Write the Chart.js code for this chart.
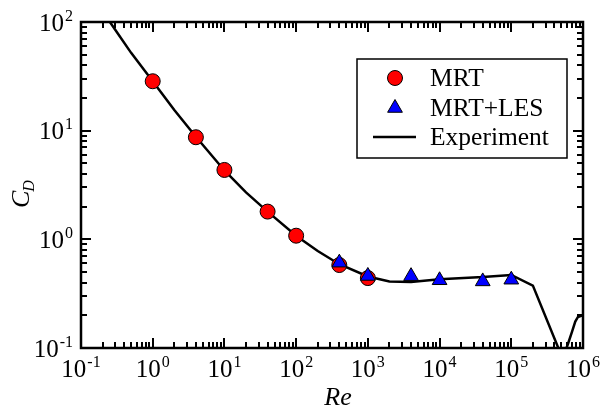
<!DOCTYPE html>
<html>
<head>
<meta charset="utf-8">
<script src="https://cdn.jsdelivr.net/npm/chart.js@4.4.0/dist/chart.umd.min.js"></script>
<style>
  body { margin: 0; background: #fff; }
  canvas { display: block; }
</style>
</head>
<body>
<canvas id="cdChart" width="603" height="412"></canvas>
<script>
// MRT (circles)
const mrtRe = [1, 4, 10, 40, 100, 400, 1000];
const mrtCd = [28.5, 8.7, 4.35, 1.8, 1.08, 0.58, 0.44];

// MRT+LES (triangles)
const lesRe = [400, 1000, 4000, 10000, 40000, 100000];
const lesCd = [0.61, 0.46, 0.458, 0.42, 0.41, 0.425];

// Experiment (line)
const expRe = [0.2, 0.3, 0.5, 1, 2, 4, 10, 20, 40, 100, 200, 400, 1000, 2000, 4000, 10000, 40000, 100000, 200000, 520000, 620000, 700000, 780000, 850000, 1000000];
const expCd = [125, 85, 52, 28.5, 15.5, 8.8, 4.3, 2.7, 1.8, 1.08, 0.78, 0.59, 0.455, 0.41, 0.405, 0.43, 0.45, 0.47, 0.375, 0.08, 0.11, 0.14, 0.175, 0.193, 0.2];

const xDecades = [-1, 0, 1, 2, 3, 4, 5, 6];
const yDecades = [-1, 0, 1, 2];

const FONT = '"Liberation Serif", "Times New Roman", Times, serif';

function toXY(xs, ys) {
    return xs.map((x, i) => ({ x: x, y: ys[i] }));
}

// draw "10^e" with baseline y; align 'center' or 'right' at x
function drawPow(ctx, e, x, y, align) {
    ctx.font = '25px ' + FONT;
    const wBase = ctx.measureText('10').width;
    ctx.font = '16px ' + FONT;
    const wExp = ctx.measureText(String(e)).width;
    const total = wBase + wExp + 1;
    let left = align === 'center' ? x - total / 2 : x - total;
    ctx.textAlign = 'left';
    ctx.textBaseline = 'alphabetic';
    ctx.font = '25px ' + FONT;
    ctx.fillText('10', left, y);
    ctx.font = '16px ' + FONT;
    ctx.fillText(String(e), left + wBase + 1, y - 10);
}

const framePlugin = {
    id: 'frame',
    afterDatasetsDraw(chart) {
        const ctx = chart.ctx;
        const a = chart.chartArea;
        const xs = chart.scales.x;
        const ys = chart.scales.y;
        ctx.save();
        ctx.strokeStyle = '#000';
        ctx.fillStyle = '#000';

        // ticks (inward, all four sides)
        ctx.lineWidth = 2;
        xDecades.forEach(d => {
            for (let m = 1; m <= 9; m++) {
                const v = m * Math.pow(10, d);
                if (v < xs.min * 0.999 || v > xs.max * 1.001) continue;
                const px = Math.round(xs.getPixelForValue(v));
                const len = m === 1 ? 10 : 6;
                ctx.beginPath();
                ctx.moveTo(px, a.bottom); ctx.lineTo(px, a.bottom - len);
                ctx.moveTo(px, a.top); ctx.lineTo(px, a.top + len);
                ctx.stroke();
            }
        });
        yDecades.forEach(d => {
            for (let m = 1; m <= 9; m++) {
                const v = m * Math.pow(10, d);
                if (v < ys.min * 0.999 || v > ys.max * 1.001) continue;
                const py = Math.round(ys.getPixelForValue(v));
                const len = m === 1 ? 10 : 6;
                ctx.beginPath();
                ctx.moveTo(a.left, py); ctx.lineTo(a.left + len, py);
                ctx.moveTo(a.right, py); ctx.lineTo(a.right - len, py);
                ctx.stroke();
            }
        });

        // frame
        ctx.lineWidth = 2.5;
        ctx.strokeRect(a.left, a.top, a.right - a.left, a.bottom - a.top);

        // tick labels
        xDecades.forEach(d => {
            drawPow(ctx, d, xs.getPixelForValue(Math.pow(10, d)), 377, 'center');
        });
        yDecades.forEach(d => {
            drawPow(ctx, d, 73, ys.getPixelForValue(Math.pow(10, d)) + 8.5, 'right');
        });

        // axis titles
        ctx.font = 'italic 26px ' + FONT;
        ctx.textAlign = 'center';
        ctx.fillText('Re', 338, 405);

        ctx.save();
        ctx.translate(29, 208);
        ctx.rotate(-Math.PI / 2);
        ctx.textAlign = 'left';
        ctx.font = 'italic 26px ' + FONT;
        ctx.fillText('C', 0, 0);
        const wC = ctx.measureText('C').width;
        ctx.font = 'italic 16px ' + FONT;
        ctx.fillText('D', wC - 1, 5);
        ctx.restore();

        // legend
        const bx = 357, by = 59, bw = 210, bh = 99;
        ctx.fillStyle = '#fff';
        ctx.fillRect(bx, by, bw, bh);
        ctx.lineWidth = 1.5;
        ctx.strokeStyle = '#000';
        ctx.strokeRect(bx, by, bw, bh);

        const mx = 395;
        const rows = [78, 108, 137];
        // circle
        ctx.beginPath();
        ctx.arc(mx, rows[0], 7.5, 0, Math.PI * 2);
        ctx.fillStyle = '#ff0000';
        ctx.fill();
        ctx.lineWidth = 1;
        ctx.stroke();
        // triangle
        const r = 8.5;
        ctx.beginPath();
        ctx.moveTo(mx, rows[1] - r);
        ctx.lineTo(mx + r * Math.sin(2 * Math.PI / 3), rows[1] - r * Math.cos(2 * Math.PI / 3));
        ctx.lineTo(mx + r * Math.sin(4 * Math.PI / 3), rows[1] - r * Math.cos(4 * Math.PI / 3));
        ctx.closePath();
        ctx.fillStyle = '#0000ff';
        ctx.fill();
        ctx.stroke();
        // line
        ctx.lineWidth = 2.5;
        ctx.beginPath();
        ctx.moveTo(373, rows[2]);
        ctx.lineTo(416, rows[2]);
        ctx.stroke();

        ctx.fillStyle = '#000';
        ctx.font = '25.5px ' + FONT;
        ctx.textAlign = 'left';
        ctx.textBaseline = 'middle';
        ctx.fillText('MRT', 430, rows[0] + 1);
        ctx.fillText('MRT+LES', 430, rows[1] + 1);
        ctx.fillText('Experiment', 430, rows[2] + 1);

        ctx.restore();
    }
};

const ctx = document.getElementById('cdChart').getContext('2d');
const chart = new Chart(ctx, {
    type: 'scatter',
    data: {
        datasets: [{
            label: 'Experiment',
            type: 'line',
            data: toXY(expRe, expCd),
            borderColor: '#000',
            borderWidth: 2.5,
            pointRadius: 0,
            fill: false,
            tension: 0,
            order: 3
        }, {
            label: 'MRT',
            data: toXY(mrtRe, mrtCd),
            pointStyle: 'circle',
            pointRadius: 7.5,
            backgroundColor: '#ff0000',
            borderColor: '#000',
            borderWidth: 1,
            order: 2
        }, {
            label: 'MRT+LES',
            data: toXY(lesRe, lesCd),
            pointStyle: 'triangle',
            pointRadius: 8.5,
            backgroundColor: '#0000ff',
            borderColor: '#000',
            borderWidth: 1,
            order: 1
        }]
    },
    options: {
        responsive: false,
        animation: false,
        devicePixelRatio: 1,
        layout: { padding: { top: 22, right: 20, left: 0, bottom: 0 } },
        plugins: {
            legend: { display: false },
            tooltip: { enabled: false }
        },
        scales: {
            x: {
                type: 'logarithmic',
                min: 0.1,
                max: 1e6,
                grid: { display: false },
                border: { display: false },
                ticks: { display: false },
                afterFit: s => { s.height = 64; }
            },
            y: {
                type: 'logarithmic',
                min: 0.1,
                max: 100,
                grid: { display: false },
                border: { display: false },
                ticks: { display: false },
                afterFit: s => { s.width = 81; }
            }
        }
    },
    plugins: [framePlugin]
});

document.fonts.ready.then(() => chart.draw());
</script>
</body>
</html>
